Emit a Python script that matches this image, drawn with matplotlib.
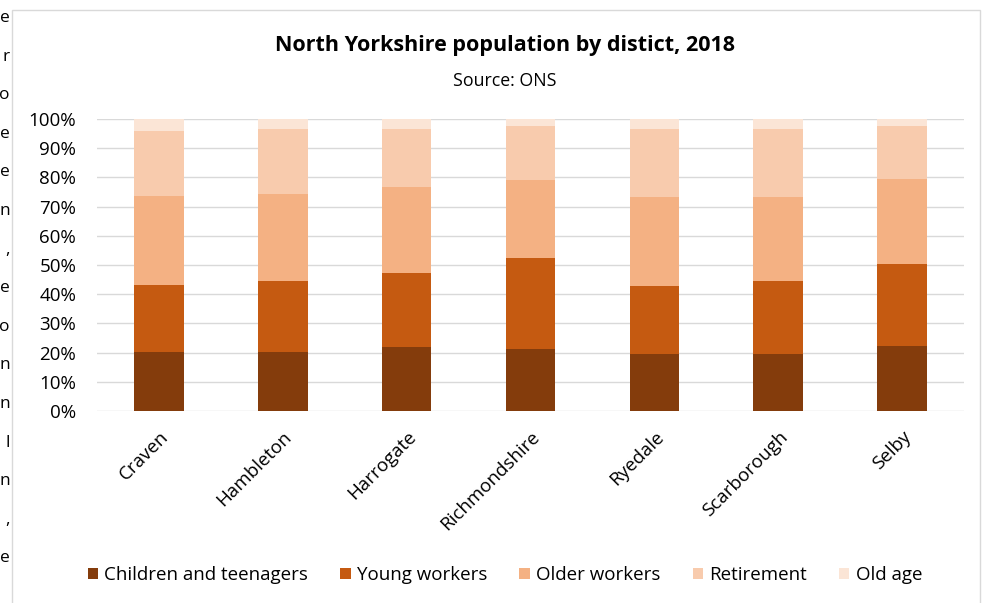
import numpy as np
import matplotlib
matplotlib.use("Agg")
import matplotlib.pyplot as plt
import matplotlib.transforms as mtransforms
from matplotlib.patches import Rectangle, Patch

plt.rcParams['font.family'] = ['Open Sans', 'DejaVu Sans']

districts = ["Craven", "Hambleton", "Harrogate", "Richmondshire",
             "Ryedale", "Scarborough", "Selby"]

# share of population in each age band (%)
children = [20.1, 20.1, 22.0, 21.1, 19.6, 19.6, 22.2]
young_workers = [22.9, 24.3, 25.4, 31.3, 23.3, 24.8, 28.3]
older_workers = [30.7, 29.8, 29.4, 26.8, 30.4, 28.9, 29.1]
retirement = [22.3, 22.5, 19.8, 18.5, 23.3, 23.3, 18.1]
old_age = [4.0, 3.3, 3.4, 2.3, 3.4, 3.4, 2.3]

band_names = ["Children and teenagers", "Young workers", "Older workers",
              "Retirement", "Old age"]
band_colors = ["#843c0c", "#c55a11", "#f4b183", "#f8cbad", "#fbe5d6"]

# ends of the page text beside the chart
margin_chars = ["e", "r", "o", "e", "e", "n", ",", "e", "o", "n",
                "n", "l", "n", ",", "e"]

W, H = 990, 603
fig = plt.figure(figsize=(W / 100, H / 100), dpi=100)

for i, ch in enumerate(margin_chars):
    fig.text(10 / W, 1 - (18 + 38.6 * i) / H, ch, ha='right', va='center',
             fontsize=12.5, color='black')

fig.patches.append(Rectangle((12 / W, -0.05), (980 - 12) / W, 1 - 10 / H + 0.05,
                             transform=fig.transFigure, fill=False,
                             edgecolor='#d9d9d9', linewidth=1.0))

ax = fig.add_axes([97 / W, 1 - 411 / H, (964 - 97) / W, (411 - 119) / H])

x = np.arange(len(districts))
bands = [children, young_workers, older_workers, retirement, old_age]
bottom = np.zeros(len(districts))
for vals, name, col in zip(bands, band_names, band_colors):
    v = np.array(vals) / 100.0
    ax.bar(x, v, width=0.4, bottom=bottom, color=col, label=name,
           zorder=3, edgecolor='none')
    bottom += v

ax.set_xlim(-0.5, len(districts) - 0.5)
ax.set_ylim(0, 1)
ticks = np.arange(0, 1.01, 0.1)
ax.set_yticks(ticks)
ax.set_yticklabels([f"{int(round(t * 100))}%" for t in ticks], fontsize=13.5)
ax.grid(axis='y', color='#d9d9d9', linewidth=1.0, zorder=0)
ax.set_xticks(x)
ax.set_xticklabels(districts, rotation=45, ha='right', va='top',
                   rotation_mode='anchor', fontsize=13.5)
# nudge the slanted names a little to the left
shift = mtransforms.ScaledTranslation(-4 / 100, 0, fig.dpi_scale_trans)
for lbl in ax.get_xticklabels():
    lbl.set_transform(lbl.get_transform() + shift)
ax.tick_params(axis='both', length=0)
ax.tick_params(axis='x', pad=12)
ax.tick_params(axis='y', pad=15)
for s in ax.spines.values():
    s.set_visible(False)

fig.text(505 / W, 1 - 46 / H, "North Yorkshire population by distict, 2018",
         ha='center', va='center', fontsize=15.5, fontweight='bold')
fig.text(505 / W, 1 - 81 / H, "Source: ONS", ha='center', va='center',
         fontsize=12.8)

handles = [Patch(facecolor=c, edgecolor='none') for c in band_colors]
fig.legend(handles, band_names, loc='center', bbox_to_anchor=(505 / W, 1 - 575 / H),
           ncol=5, frameon=False, fontsize=13.5, handlelength=0.55,
           handleheight=0.55, handletextpad=0.35, columnspacing=1.7)

fig.savefig("out.png", dpi=100)
